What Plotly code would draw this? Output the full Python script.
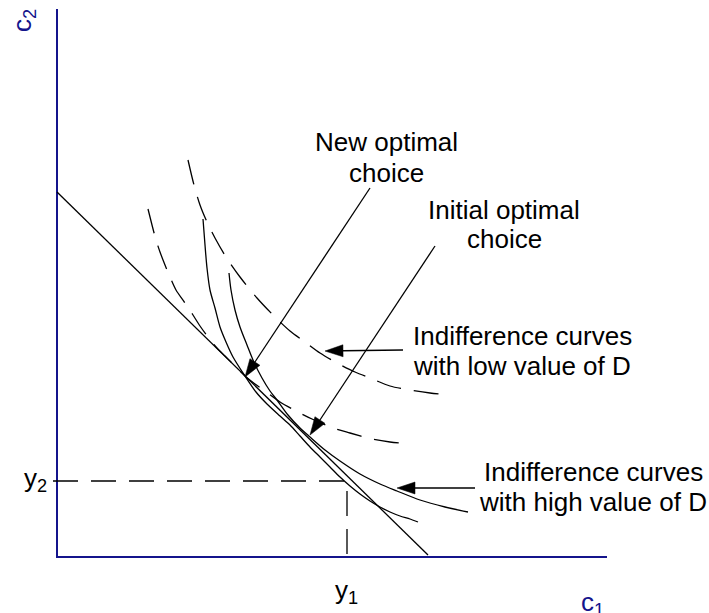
import numpy as np
import plotly.graph_objects as go

# ---------------- data (c1, c2 units; origin at the axes corner) ----------------
budget_c1 = [0, 371]
budget_c2 = [365, 2]

endow_y1 = 290
endow_y2 = 76

# indifference curves, low value of D (dashed)
lowA_c1 = [131, 137, 143, 150, 158, 169, 183, 200, 218, 233, 248, 263, 280, 298, 313, 333, 353, 373, 393]
lowA_c2 = [397, 372, 352, 335, 319, 300, 280, 259, 240, 226, 215, 204, 194, 185, 179, 171, 167, 164, 162]

lowB_c1 = [91, 95, 99, 103, 108, 113, 119, 128, 136, 143, 151, 160, 168, 178, 188, 198, 208, 223, 241, 255, 276, 293, 315, 333, 353]
lowB_c2 = [348, 332, 317, 305, 292, 280, 267, 254, 242, 231, 220, 209, 201, 191, 181, 173, 166, 155, 145, 138, 129, 124, 118, 115, 113]

# indifference curves, high value of D (solid)
highC_c1 = [146, 148, 150, 153, 158, 163, 169, 176, 188, 199, 210, 223, 233, 243, 253, 263, 273, 283, 293, 303, 313, 323, 333, 343, 353, 361]
highC_c2 = [338, 312, 289, 267, 249, 230, 215, 200, 181, 165, 153, 141, 132, 121, 110, 100, 90, 80, 71, 63, 56, 50, 45, 41, 38, 35]

highD_c1 = [172, 174, 178, 183, 190, 196, 205, 213, 220, 231, 243, 253, 268, 283, 303, 323, 340, 363, 388, 411]
highD_c2 = [284, 267, 247, 230, 212, 197, 179, 166, 157, 142, 129, 120, 107, 96, 83, 73, 66, 57, 50, 45]

# arrows: tail -> tip
arrow_tail_c1 = [313, 378, 346, 418]
arrow_tail_c2 = [369, 311, 207, 69]
arrow_tip_c1 = [188, 253, 268, 340]
arrow_tip_c2 = [180, 122, 206, 69]

# text lines
text_lines = ["New optimal", "choice", "Initial optimal", "choice",
              "Indifference curves", "with low value of D",
              "Indifference curves", "with high value of D"]

# ---------------- styles ----------------
NAVY = "#14148c"
FONT = "Liberation Sans, Arial, Helvetica, sans-serif"
DASH = "25px,13px"

fig = go.Figure()

# axes
fig.add_trace(go.Scatter(x=[0, 0, 550], y=[548, 0, 0], mode="lines",
                         line=dict(color=NAVY, width=2), hoverinfo="skip"))

# endowment dashed guides
fig.add_trace(go.Scatter(x=[-4, endow_y1, endow_y1], y=[endow_y2, endow_y2, -7], mode="lines",
                         line=dict(color="black", width=1.3, dash=DASH), hoverinfo="skip"))

# budget line
fig.add_trace(go.Scatter(x=budget_c1, y=budget_c2, mode="lines",
                         line=dict(color="black", width=1.3), hoverinfo="skip"))

for cx, cy, dash in [(lowA_c1, lowA_c2, DASH), (lowB_c1, lowB_c2, DASH),
                     (highC_c1, highC_c2, "solid"), (highD_c1, highD_c2, "solid")]:
    fig.add_trace(go.Scatter(x=cx, y=cy, mode="lines",
                             line=dict(color="black", width=1.3, dash=dash,
                                       shape="spline", smoothing=0.8),
                             hoverinfo="skip"))

# arrows with filled heads
HEAD_L, HEAD_W = 18, 12
for sx, sy, tx, ty in zip(arrow_tail_c1, arrow_tail_c2, arrow_tip_c1, arrow_tip_c2):
    v = np.array([tx - sx, ty - sy], dtype=float)
    u = v / np.linalg.norm(v)
    n = np.array([-u[1], u[0]])
    tip = np.array([tx, ty], dtype=float)
    base = tip - HEAD_L * u
    p1 = base + HEAD_W / 2 * n
    p2 = base - HEAD_W / 2 * n
    fig.add_trace(go.Scatter(x=[sx, base[0]], y=[sy, base[1]], mode="lines",
                             line=dict(color="black", width=1.3), hoverinfo="skip"))
    fig.add_trace(go.Scatter(x=[tip[0], p1[0], p2[0], tip[0]], y=[tip[1], p1[1], p2[1], tip[1]],
                             mode="lines", fill="toself", fillcolor="black",
                             line=dict(color="black", width=0.5), hoverinfo="skip"))

# text annotations
text_pos = [(329, 415), (329, 384), (447, 347), (447, 318),
            (465, 221), (465, 191), (536, 85), (536, 55)]
annotations = []
for t, (x, y) in zip(text_lines, text_pos):
    annotations.append(dict(x=x, y=y, xref="x", yref="y", text=t, showarrow=False,
                            xanchor="center", yanchor="middle",
                            font=dict(family=FONT, size=26, color="black")))

labels = [("y<sub>2</sub>", -22, 78, "black", 0),
          ("y<sub>1</sub>", 289, -34, "black", 0),
          ("c<sub>1</sub>", 535, -46, NAVY, 0),
          ("c<sub>2</sub>", -34, 536, NAVY, -90)]
for t, x, y, c, ang in labels:
    annotations.append(dict(x=x, y=y, xref="x", yref="y", text=t, showarrow=False,
                            xanchor="center", yanchor="middle", textangle=ang,
                            font=dict(family=FONT, size=26, color=c)))

fig.update_layout(
    width=709, height=613,
    margin=dict(l=0, r=0, t=0, b=0),
    paper_bgcolor="white", plot_bgcolor="white",
    showlegend=False,
    xaxis=dict(range=[-57, 652], visible=False, fixedrange=True),
    yaxis=dict(range=[-56, 557], visible=False, fixedrange=True),
    annotations=annotations,
)

fig.write_html("out.html", config={"displayModeBar": False},
               post_script="document.body.style.margin='0';document.body.style.overflow='hidden';")
